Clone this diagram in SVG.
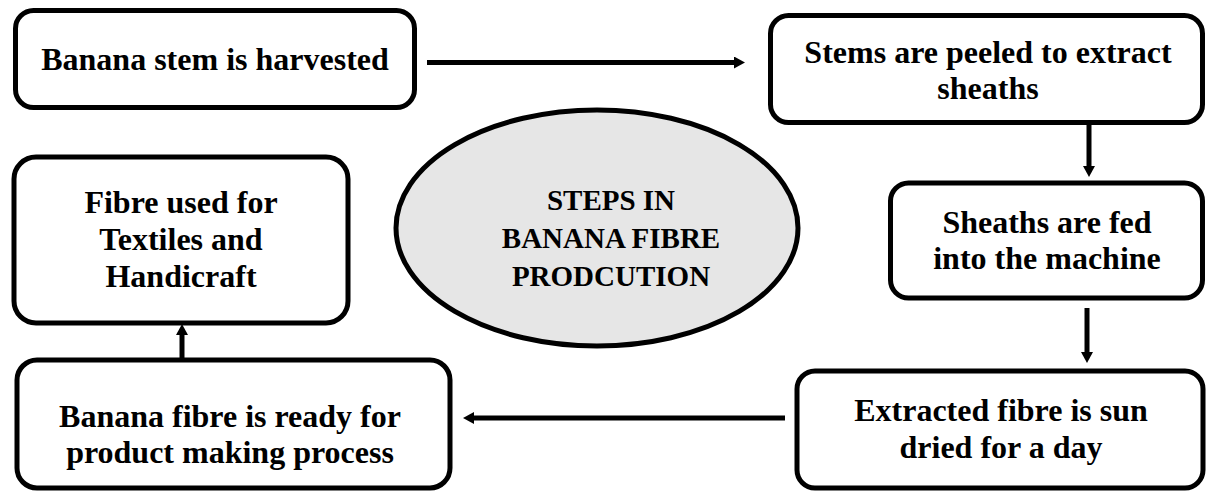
<svg xmlns="http://www.w3.org/2000/svg" width="1208" height="492" viewBox="0 0 1208 492">
<style>
.box{fill:#fff;stroke:#000;stroke-width:5}
text{font-family:'Liberation Serif','DejaVu Serif',serif;font-weight:bold;fill:#000;text-anchor:middle}
.t{font-size:32px}
.te{font-size:29px}
.c{stroke:#000;stroke-width:5;fill:none;marker-end:url(#ah)}
</style>
<defs>
<marker id="ah" markerUnits="userSpaceOnUse" markerWidth="11" markerHeight="12" refX="0" refY="6" orient="auto">
<path d="M0,0 L11,6 L0,12 z" fill="#000"/>
</marker>
</defs>
<rect width="1208" height="492" fill="#fff"/>
<g id="n1">
<rect class="box" x="15.5" y="10.5" width="399" height="97" rx="18"/>
<text class="t" x="215" y="70" font-family="Liberation Serif, serif">Banana stem is harvested</text>
</g>
<g id="n2">
<rect class="box" x="770.5" y="15.5" width="432" height="107" rx="18"/>
<text class="t" x="988" y="63">Stems are peeled to extract</text>
<text class="t" x="988" y="99">sheaths</text>
</g>
<g id="n3">
<rect class="box" x="890.5" y="183" width="312" height="115" rx="18"/>
<text class="t" x="1047" y="233">Sheaths are fed</text>
<text class="t" x="1047" y="269">into the machine</text>
</g>
<g id="n4">
<rect class="box" x="797" y="371" width="406" height="117" rx="18"/>
<text class="t" x="1001" y="421">Extracted fibre is sun</text>
<text class="t" x="1001" y="458">dried for a day</text>
</g>
<g id="n5">
<rect class="box" x="17" y="360" width="433" height="128" rx="20"/>
<text class="t" x="230" y="427">Banana fibre is ready for</text>
<text class="t" x="230" y="463">product making process</text>
</g>
<g id="n6">
<rect class="box" x="14" y="157" width="334" height="166" rx="22"/>
<text class="t" x="181" y="213">Fibre used for</text>
<text class="t" x="181" y="250">Textiles and</text>
<text class="t" x="181" y="287">Handicraft</text>
</g>
<g id="center">
<ellipse cx="597" cy="228" rx="201" ry="118" fill="#e6e6e6" stroke="#000" stroke-width="5"/>
<text class="te" x="611" y="210">STEPS IN</text>
<text class="te" x="611" y="248">BANANA FIBRE</text>
<text class="te" x="611" y="286">PRODCUTION</text>
</g>
<g id="connectors">
<line class="c" x1="427" y1="62.5" x2="734" y2="62.5"/>
<line class="c" x1="1089" y1="125" x2="1089" y2="166"/>
<line class="c" x1="1087" y1="308" x2="1087" y2="352"/>
<line class="c" x1="785" y1="418" x2="474" y2="418"/>
<line class="c" x1="182" y1="358" x2="182" y2="335"/>
</g>
</svg>
